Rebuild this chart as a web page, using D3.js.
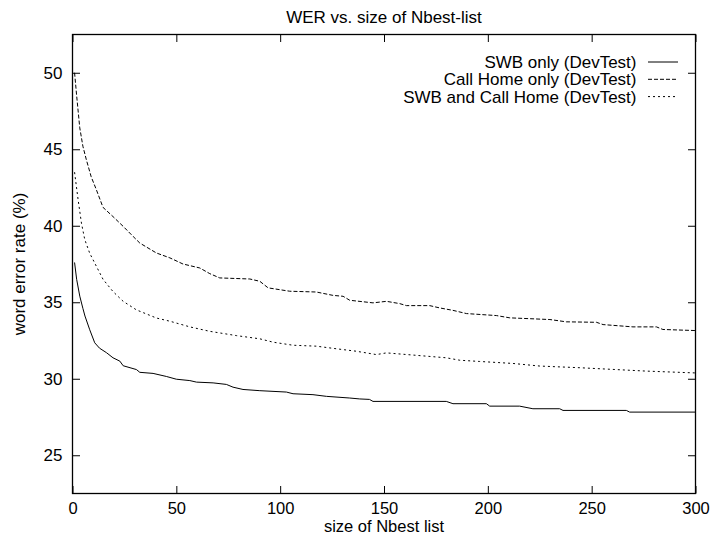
<!DOCTYPE html>
<html>
<head>
<meta charset="utf-8">
<script src="https://d3js.org/d3.v7.min.js"></script>
<style>
    body { margin: 0; background: #fff; overflow: hidden; }
    svg { display: block; }
    text { font-family: "Liberation Sans", Arial, Helvetica, sans-serif; fill: #000; }
</style>
</head>
<body>
<div id="chart"></div>
<script>
// values (N-best size -> word error rate %)
var swbN   = [1, 2, 3.5, 5, 6, 8.3, 10.7, 13, 16.4, 19.5, 22.8, 24.4, 30.8, 32.4, 38.8, 45.2, 50, 56.5, 59.7, 67.7, 74.1, 77.3, 82.1, 90.2, 103, 106.2, 115.8, 122.3, 133.5, 138.3, 143, 144.7, 180, 183.2, 199.3, 200.9, 215.3, 221.7, 234.6, 236.2, 266.7, 268.3, 300];
var swbWer = [37.6, 36.5, 35.4, 34.6, 34.1, 33.2, 32.35, 32.0, 31.7, 31.37, 31.15, 30.85, 30.6, 30.42, 30.35, 30.15, 29.97, 29.88, 29.78, 29.73, 29.63, 29.45, 29.3, 29.22, 29.13, 29.02, 28.96, 28.85, 28.74, 28.68, 28.65, 28.52, 28.52, 28.37, 28.37, 28.21, 28.21, 28.04, 28.04, 27.93, 27.93, 27.82, 27.82];

var chN   = [1, 2, 3.5, 5, 6.7, 9, 11.5, 14.7, 19.5, 24.4, 29.2, 32.4, 40.4, 46.9, 53.2, 61.3, 66.1, 70.9, 85.4, 90.2, 94.2, 104.6, 117.4, 125.4, 130.3, 133.5, 144.7, 151.2, 157.6, 160.8, 172, 176.8, 183.2, 189.7, 204.1, 210.6, 229.9, 237.8, 252.3, 255.5, 269.9, 281.2, 284.3, 300];
var chWer = [50.0, 48.5, 46.4, 45.2, 44.3, 43.2, 42.35, 41.2, 40.6, 39.96, 39.3, 38.87, 38.22, 37.9, 37.5, 37.24, 36.87, 36.59, 36.52, 36.37, 35.94, 35.72, 35.67, 35.45, 35.39, 35.13, 34.96, 35.06, 34.91, 34.78, 34.78, 34.63, 34.47, 34.26, 34.13, 33.98, 33.87, 33.72, 33.69, 33.54, 33.39, 33.39, 33.22, 33.15];

var bothN   = [1, 2.7, 4.3, 5.9, 8.3, 11.5, 14.7, 19.5, 24.4, 30.8, 40.4, 46.9, 56.5, 66.1, 78.9, 90.2, 96.6, 106.2, 117.4, 127, 136.6, 146.3, 151.2, 180, 186.5, 196.1, 212.1, 225, 244.3, 260.3, 276.3, 300];
var bothWer = [43.5, 41.7, 40.18, 39.1, 38.2, 37.35, 36.5, 35.7, 35.06, 34.5, 33.97, 33.76, 33.39, 33.1, 32.82, 32.61, 32.39, 32.19, 32.13, 31.96, 31.8, 31.58, 31.69, 31.37, 31.21, 31.13, 31.0, 30.83, 30.72, 30.61, 30.5, 30.38];

var seriesNames = ["SWB only (DevTest)", "Call Home only (DevTest)", "SWB and Call Home (DevTest)"];
var xTicks = [0, 50, 100, 150, 200, 250, 300];
var yTicks = [25, 30, 35, 40, 45, 50];

var width = 710,
    height = 536;

// plot box edges (window.top is reserved, hence the prefix)
var plotLeft = 72.5,
    plotRight = 695.5,
    plotTop = 34.5,
    plotBottom = 493.5;

var dashes = [null, "4,2", "2,3"];

var x = d3.scaleLinear().domain([0, 300]).range([plotLeft, plotRight]);
var y = d3.scaleLinear().domain([22.5, 52.5]).range([plotBottom, plotTop]);

var svg = d3.select("#chart")
            .append("svg")
                .attr("width", width)
                .attr("height", height);

// mirrored inward ticks, gnuplot style
var tick = 7.5;

var xAxis = svg.append("g")
      .attr("transform", "translate(0," + plotBottom + ")")
      .call(d3.axisBottom(x).tickValues(xTicks).tickSizeInner(-tick).tickSizeOuter(0).tickPadding(9));

svg.append("g")
      .attr("transform", "translate(0," + plotTop + ")")
      .call(d3.axisTop(x).tickValues(xTicks).tickSizeInner(-tick).tickSizeOuter(0).tickFormat(""));

var yAxis = svg.append("g")
      .attr("transform", "translate(" + plotLeft + ",0)")
      .call(d3.axisLeft(y).tickValues(yTicks).tickSizeInner(-tick).tickSizeOuter(0).tickPadding(10));

svg.append("g")
      .attr("transform", "translate(" + plotRight + ",0)")
      .call(d3.axisRight(y).tickValues(yTicks).tickSizeInner(-tick).tickSizeOuter(0).tickFormat(""));

svg.selectAll(".domain").remove();
svg.selectAll(".tick line").attr("stroke", "#000");
svg.selectAll(".tick text").attr("fill", "#000");
xAxis.selectAll(".tick text").style("font-size", "16.5px");
yAxis.selectAll(".tick text").style("font-size", "17px");

svg.append("rect")
      .attr("x", plotLeft)
      .attr("y", plotTop)
      .attr("width", plotRight - plotLeft)
      .attr("height", plotBottom - plotTop)
      .attr("fill", "none")
      .attr("stroke", "#000")
      .attr("stroke-width", 1.3);

var series = [
    d3.zip(swbN, swbWer),
    d3.zip(chN, chWer),
    d3.zip(bothN, bothWer)
];

var line = d3.line()
               .x(d => x(d[0]))
               .y(d => y(d[1]));

svg.append("g")
      .selectAll("path")
      .data(series)
      .join("path")
          .attr("d", line)
          .attr("fill", "none")
          .attr("stroke", "#000")
          .attr("stroke-width", 1)
          .attr("stroke-dasharray", (d, i) => dashes[i]);

// legend, top right
var legend = svg.append("g")
                  .selectAll("g")
                  .data(seriesNames)
                  .join("g")
                      .attr("transform", (d, i) => "translate(0," + (62 + i * 17.3) + ")");

legend.append("text")
        .attr("x", 636.5)
        .attr("dy", "0.35em")
        .attr("text-anchor", "end")
        .style("font-size", "17px")
        .text(d => d);

legend.append("line")
        .attr("x1", 648)
        .attr("x2", 678)
        .attr("stroke", "#000")
        .attr("stroke-width", 1)
        .attr("stroke-dasharray", (d, i) => dashes[i]);

svg.append("text")
      .attr("x", (plotLeft + plotRight) / 2)
      .attr("y", 23)
      .attr("text-anchor", "middle")
      .style("font-size", "17px")
      .text("WER vs. size of Nbest-list");

svg.append("text")
      .attr("x", (plotLeft + plotRight) / 2)
      .attr("y", 532)
      .attr("text-anchor", "middle")
      .style("font-size", "16.5px")
      .text("size of Nbest list");

svg.append("text")
      .attr("transform", "translate(25," + (plotTop + plotBottom) / 2 + ") rotate(-90)")
      .attr("text-anchor", "middle")
      .style("font-size", "17px")
      .text("word error rate (%)");
</script>
</body>
</html>
